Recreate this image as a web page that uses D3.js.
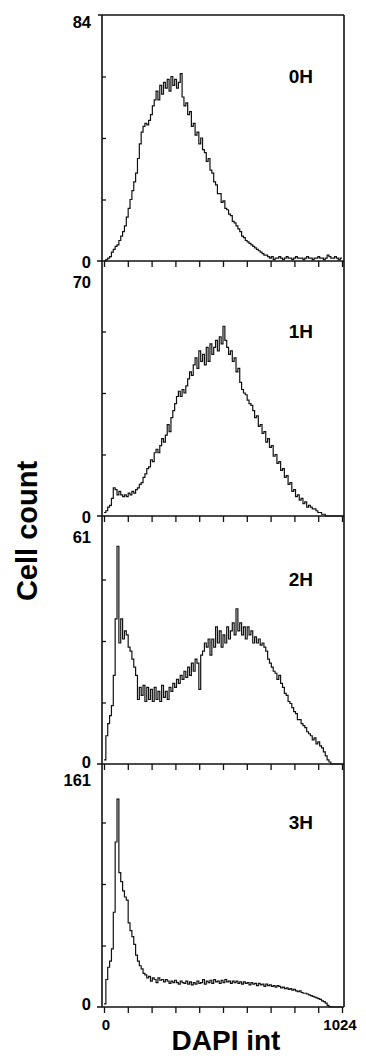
<!DOCTYPE html>
<html>
<head>
<meta charset="utf-8">
<script src="https://cdn.jsdelivr.net/npm/d3@7"></script>
<style>
  body { margin: 0; background: #fff; }
  svg { display: block; font-family: "Liberation Sans", Arial, sans-serif; font-weight: bold; }
</style>
</head>
<body>
<div id="chart-area"></div>
<script>
// time points and y maxima of each panel
const timePoints = ['0H', '1H', '2H', '3H'];
const yMaxes = [84, 70, 61, 161];
const dapiMax = 1024;
const binWidth = 8; // channels per bin
const xTickLabels = ['0', '1024'];

// cell counts per 8-channel bin
const counts0H = [
  0, 0.5, 1, 1.5, 3, 4, 5, 5.5, 7, 8.5,
  10, 12, 15, 18, 21, 24, 27, 30, 35, 40,
  44, 46, 47, 46.5, 48, 50, 53, 55, 58, 55,
  60, 57, 61, 59, 62, 58, 63, 60, 62, 59,
  61, 64, 56, 53, 54, 50, 51, 46, 47, 43,
  44, 40, 42, 38, 37, 34, 35, 31, 30, 27,
  26, 23, 23, 20, 20.5, 18, 17.5, 16, 15.5, 13.5,
  13, 12, 11, 10, 8.5, 8, 7, 6.5, 6, 5.5,
  5, 4.5, 4, 3.5, 3, 2.5, 2, 2, 1.5, 1,
  1.5, 0.5, 1, 1, 1.5, 1, 0.5, 1, 1.5, 1,
  1, 0.5, 1, 1.5, 1, 1, 1, 0.5, 1, 1.5,
  1, 1, 0.5, 1, 1, 1.5, 1, 1, 0.5, 1,
  2, 1.5, 1, 1, 1.5, 1, 0.5, 1
];
const counts1H = [
  1, 1.5, 2.5, 3, 5, 8, 7.5, 6, 7, 6,
  5.5, 6, 5.5, 6.5, 6, 7, 6.5, 7.5, 8, 9,
  9.5, 11, 12, 13.5, 14, 16, 15.5, 18, 19, 18,
  20, 22, 21, 23, 26, 24, 28, 30, 32, 34,
  35.5, 34, 36, 35, 37, 39, 41, 40, 43, 45,
  42, 47, 44, 46, 43, 48, 44, 49, 46, 48,
  50, 47, 51, 49, 54, 50, 48, 46, 47, 44,
  45, 41, 42, 38, 36, 35, 34.5, 33, 32, 31.5,
  30, 28, 28.5, 25.5, 26, 23.5, 24, 21, 22, 19.5,
  20, 17, 17.5, 15, 15.5, 13, 13.5, 11, 11.5, 9,
  9.5, 7, 7.5, 5.5, 6, 4.5, 5, 3.5, 4, 2.5,
  3, 2.5, 2, 2, 1.5, 1, 1, 0.5, 0.5, 0,
  0, 0, 0, 0, 0, 0, 0, 0
];
const counts2H = [
  1, 7, 10, 12, 14.5, 22, 36, 54, 30, 36,
  31, 33, 32, 29, 28, 26, 24, 22, 16, 19,
  17, 19.5, 15.5, 19, 16, 18.5, 15.5, 19, 16, 18,
  15.5, 19.5, 16.5, 18, 16, 19, 18, 20, 19, 21,
  20, 22, 21, 23, 21.5, 24, 22, 25, 23, 26,
  25, 18.5, 27, 28, 30, 29, 31, 27, 31, 29,
  34, 30, 33, 29, 32, 30, 34, 31, 33, 35,
  32, 38.5, 33, 35, 32, 34, 31, 34, 32, 33,
  30, 31.5, 30, 31, 29.5, 30, 29, 28, 26, 25,
  24, 23, 22.5, 21, 22, 20, 19, 17.5, 17, 15.5,
  15, 14, 13, 12.5, 11, 11, 10, 9.5, 9, 8,
  7.5, 7, 6, 6.5, 5, 5.5, 4.5, 4, 3, 2,
  1, 0.5, 0, 0, 0, 0, 0, 0
];
const counts3H = [
  2, 18, 26, 30, 38, 62, 108, 136, 88, 82,
  76, 72, 70, 55, 50, 46, 41, 34, 30, 27,
  25, 22, 21, 19, 20, 17, 19, 18, 16, 19,
  17.5, 18, 16.5, 18, 17, 15.5, 17, 16, 17.5, 16,
  15, 17, 16, 15.5, 17, 15, 16.5, 14.5, 16, 15,
  17, 15.5, 16, 18, 15, 17, 16, 17.5, 15.5, 18,
  16.5, 17, 15.5, 17.5, 16, 18, 16.5, 17, 15.5, 17,
  16, 17, 15.5, 16.5, 15, 16.5, 15.5, 16, 14.5, 16,
  15, 15.5, 14, 15.5, 14.5, 15, 13.5, 15, 14, 14.5,
  13.5, 14, 13, 14, 13.5, 12.5, 13, 12, 12.5, 11.5,
  12, 11, 11.5, 10.5, 10, 10.5, 9.5, 9, 9, 8.5,
  8, 7.5, 7, 6.5, 6, 5.5, 5, 4, 3.5, 2.5,
  1, 0.3, 0, 0, 0, 0, 0, 0
];
const allCounts = [counts0H, counts1H, counts2H, counts3H];

// layout
const width = 366;
const height = 1056;
const frameLeft = 102;
const frameRight = 344;
const panelTops = [15, 270, 518, 761];
const panelHeight = 246;
const maxLabelDy = [7, 12, 19, 19];
const zeroLabelDy = [1, 1, -2, -3];

const svg = d3.select('#chart-area')
  .append('svg')
  .attr('width', width)
  .attr('height', height);

const x = d3.scaleLinear()
  .domain([0, dapiMax])
  .range([104, 342]);

const xTicks = d3.range(11).map(i => i * dapiMax / 10);

const line = d3.line()
  .x(d => x(d[0]))
  .y(d => d[1])
  .curve(d3.curveStepAfter);

const lastBottom = panelTops[3] + panelHeight;

// outer left and right frame lines
svg.append('line')
  .attr('x1', frameLeft).attr('x2', frameLeft)
  .attr('y1', panelTops[0]).attr('y2', lastBottom)
  .attr('stroke', '#111').attr('stroke-width', 1.6);
svg.append('line')
  .attr('x1', frameRight).attr('x2', frameRight)
  .attr('y1', panelTops[0]).attr('y2', lastBottom)
  .attr('stroke', '#111').attr('stroke-width', 1.6);
svg.append('line')
  .attr('x1', frameLeft - 4).attr('x2', frameRight)
  .attr('y1', panelTops[0]).attr('y2', panelTops[0])
  .attr('stroke', '#111').attr('stroke-width', 1.6);

timePoints.forEach((name, p) => {
  const top = panelTops[p];
  const bottom = top + panelHeight;
  const yMax = yMaxes[p];
  const counts = allCounts[p];

  const y = d3.scaleLinear()
    .domain([0, yMax])
    .range([bottom, top]);

  const g = svg.append('g');

  // inner ticks on the left
  g.append('g')
    .attr('transform', `translate(${frameLeft},0)`)
    .call(d3.axisRight(y).tickValues([yMax / 4, yMax / 2, yMax * 3 / 4]).tickSize(4).tickFormat(''))
    .call(a => a.select('.domain').remove())
    .selectAll('line').attr('stroke', '#111').attr('stroke-width', 1.3);

  // x ticks under the baseline
  g.append('g')
    .attr('transform', `translate(0,${bottom})`)
    .call(d3.axisBottom(x).tickValues(xTicks).tickSize(6).tickFormat(''))
    .call(a => a.select('.domain').remove())
    .selectAll('line').attr('stroke', '#111').attr('stroke-width', 1.3);

  // baseline
  g.append('line')
    .attr('x1', frameLeft - 5).attr('x2', frameRight)
    .attr('y1', y(0)).attr('y2', y(0))
    .attr('stroke', '#111').attr('stroke-width', 1.6);

  // histogram
  const pts = counts.map((c, i) => [i * binWidth, y(c)]);
  pts.push([dapiMax, y(counts[counts.length - 1])]);
  g.append('path')
    .attr('d', line(pts))
    .attr('fill', 'none')
    .attr('stroke', '#111')
    .attr('stroke-width', 1.2);

  // y labels
  g.append('text')
    .attr('x', 91)
    .attr('y', y(yMax) + maxLabelDy[p])
    .attr('text-anchor', 'end')
    .attr('dominant-baseline', 'central')
    .attr('font-size', 16.5)
    .text(yMax);
  g.append('text')
    .attr('x', 91)
    .attr('y', y(0) + zeroLabelDy[p])
    .attr('text-anchor', 'end')
    .attr('dominant-baseline', 'central')
    .attr('font-size', 16.5)
    .text('0');

  // panel name
  g.append('text')
    .attr('x', 313)
    .attr('y', top + 68)
    .attr('text-anchor', 'end')
    .attr('font-size', 19)
    .text(name);
});

// x end labels
svg.selectAll('.xlab')
  .data([0, dapiMax])
  .enter().append('text')
  .attr('class', 'xlab')
  .attr('x', (d, i) => x(d) + (i === 0 ? 2 : -2))
  .attr('y', 1024)
  .attr('text-anchor', 'middle')
  .attr('dominant-baseline', 'central')
  .attr('font-size', 15)
  .text((d, i) => xTickLabels[i]);

svg.append('text')
  .attr('x', 226)
  .attr('y', 1050)
  .attr('text-anchor', 'middle')
  .attr('font-size', 28)
  .text('DAPI int');

svg.append('text')
  .attr('transform', 'translate(37,531) rotate(-90)')
  .attr('text-anchor', 'middle')
  .attr('font-size', 29)
  .text('Cell count');
</script>
</body>
</html>
